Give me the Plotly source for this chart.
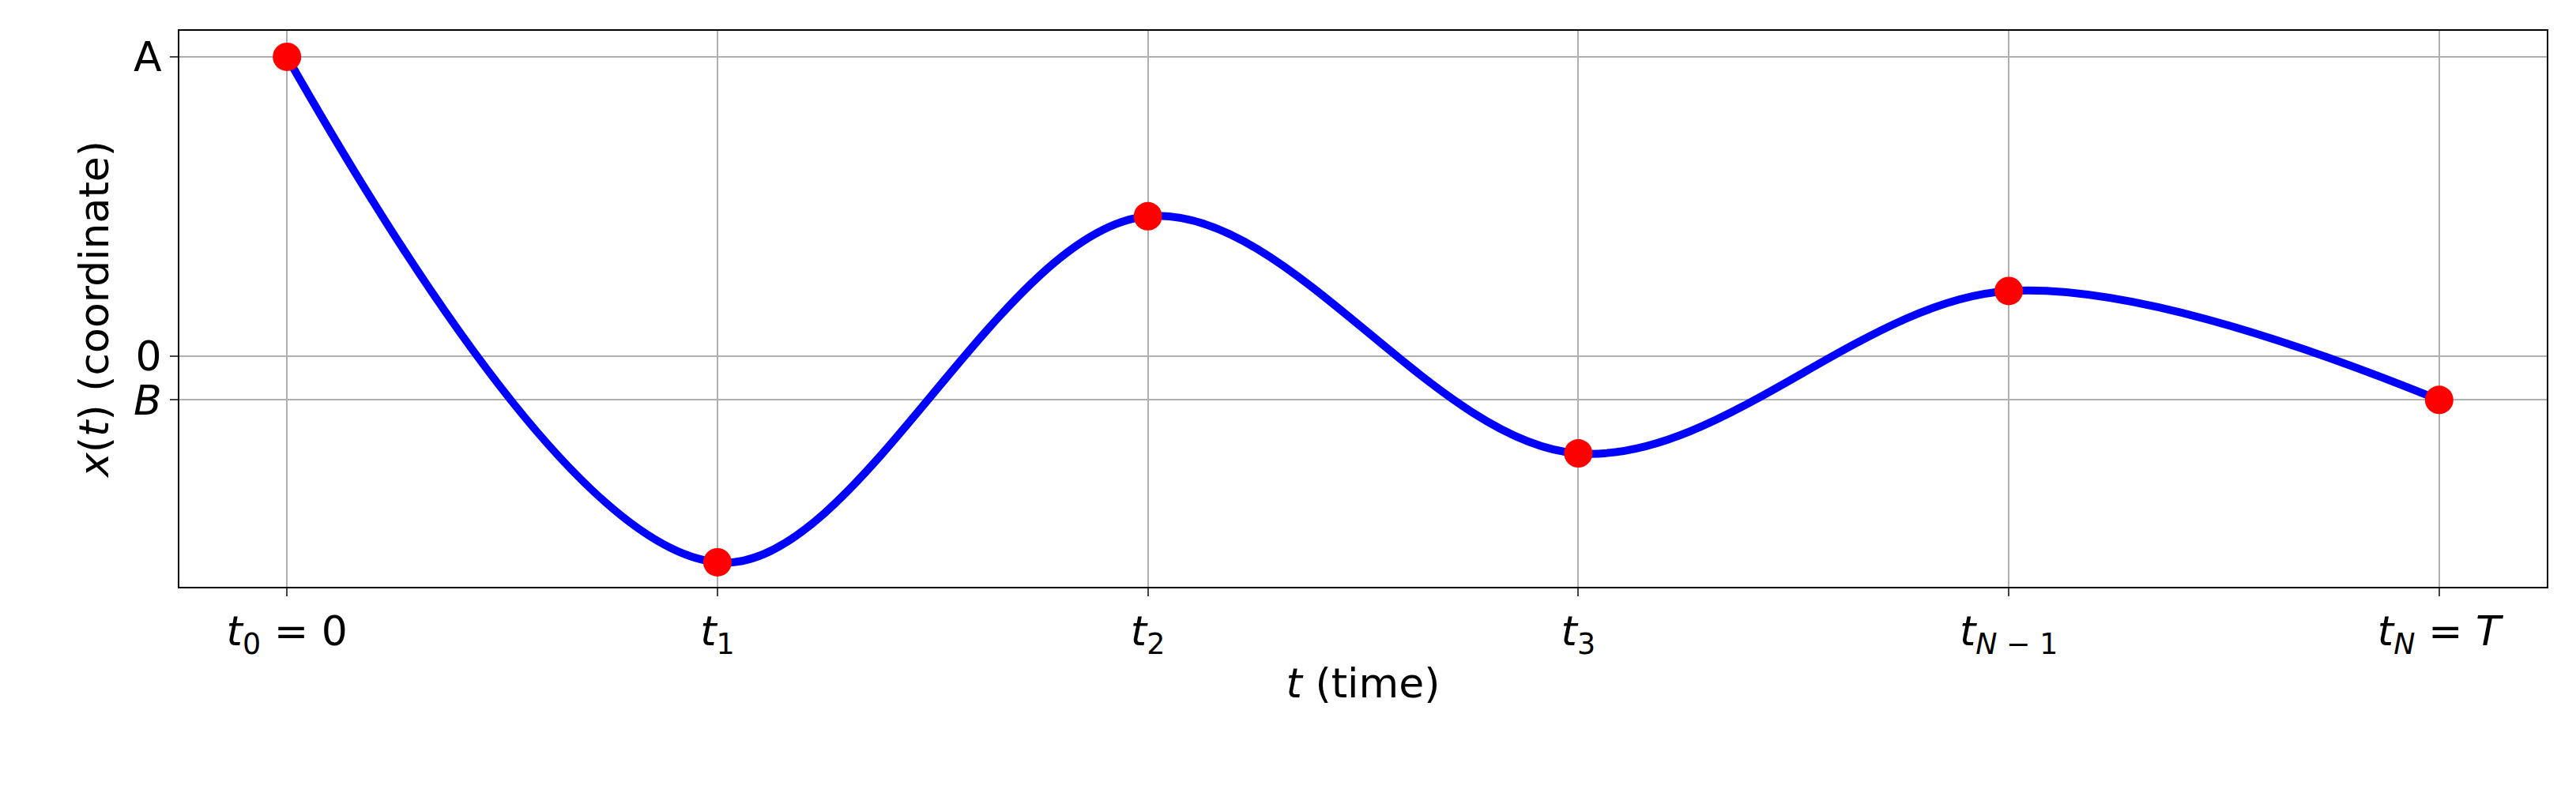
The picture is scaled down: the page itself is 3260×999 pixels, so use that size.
import plotly.graph_objects as go

t_pos = [0, 1, 2, 3, 4, 5]
x_vals = [1.0, -0.69, 0.467, -0.326, 0.217, -0.147]
x_ticklabels = ["<i>t</i><sub>0</sub> = 0", "<i>t</i><sub>1</sub>", "<i>t</i><sub>2</sub>",
                "<i>t</i><sub>3</sub>", "<i>t</i><sub><i>N</i> − 1</sub>", "<i>t</i><sub><i>N</i></sub> = <i>T</i>"]
y_tickvals = [1.0, 0.0, -0.147]
y_ticklabels = ["A", "0", "<i>B</i>"]

fig = go.Figure()
fig.add_trace(go.Scatter(x=t_pos, y=x_vals, mode="lines", line=dict(color="blue", width=10, shape="spline", smoothing=1.0)))
fig.add_trace(go.Scatter(x=t_pos, y=x_vals, mode="markers", marker=dict(color="red", size=36)))

ax = dict(showline=True, mirror=True, linecolor="black", linewidth=2, ticks="outside", ticklen=10,
          tickwidth=2, showgrid=True, gridcolor="#b0b0b0", gridwidth=2, zeroline=False,
          tickfont=dict(size=52, color="black"))
fig.update_layout(
    width=3260, height=999, plot_bgcolor="white", paper_bgcolor="white", showlegend=False,
    margin=dict(l=219, r=45, t=31, b=264),
    font=dict(family="DejaVu Sans", color="black"),
    xaxis=dict(ax, range=[-0.25, 5.25], tickvals=t_pos, ticktext=x_ticklabels,
               title=dict(text="<i>t</i> (time)", font=dict(size=52), standoff=10)),
    yaxis=dict(ax, range=[-0.772, 1.087], tickvals=y_tickvals, ticktext=y_ticklabels,
               title=dict(text="<i>x</i>(<i>t</i>) (coordinate)", font=dict(size=52), standoff=15)),
)
fig.write_html("out.html")
